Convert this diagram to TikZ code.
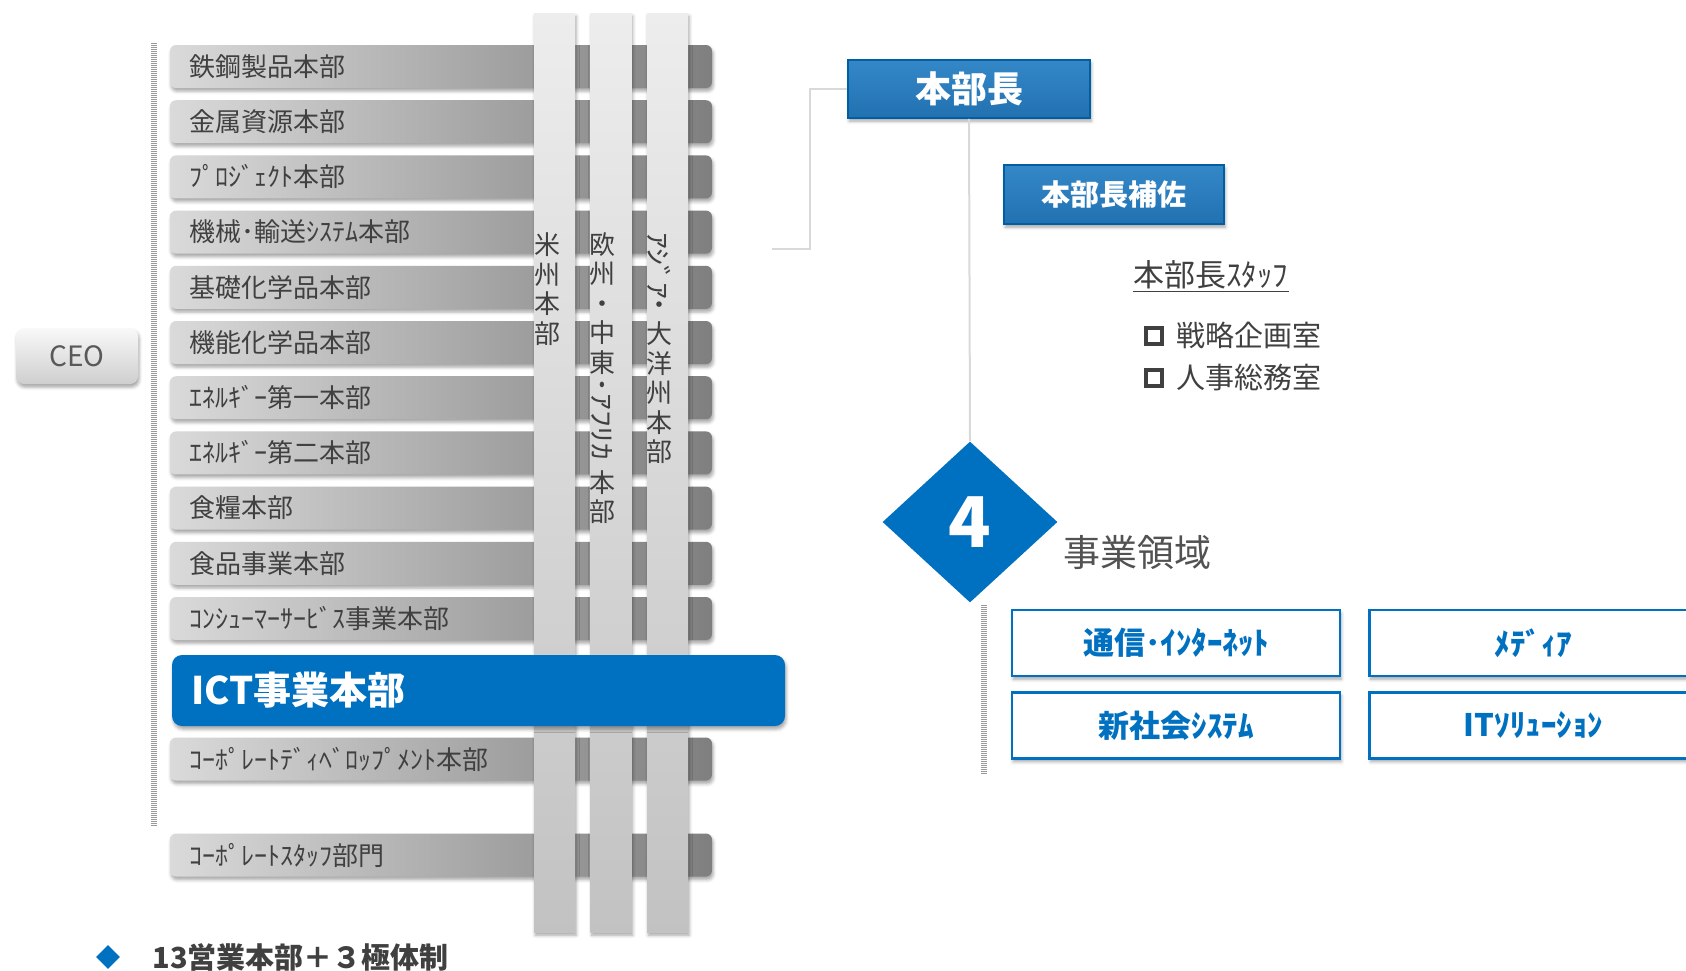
\documentclass[tikz,border=0pt]{standalone}
\usepackage{fontspec}
\usepackage{graphicx}
\setmainfont{Noto Sans CJK JP}
\usetikzlibrary{shapes.geometric,shadows.blur,calc}
\definecolor{txt}{HTML}{404040}
\definecolor{blu}{HTML}{0070C0}
\definecolor{barL}{HTML}{DADADA}
\definecolor{barR}{HTML}{7F7F7F}
\definecolor{stripT}{HTML}{EDEDED}
\definecolor{stripB}{HTML}{C2C2C2}
\definecolor{lineg}{HTML}{D9D9D9}
\definecolor{boxT}{HTML}{3488C8}
\definecolor{boxB}{HTML}{2271B1}
\newcommand{\sidek}[1]{\rotatebox[origin=c]{-90}{\scalebox{1.3}[1]{#1}}}
\tikzset{
  shad/.style={blur shadow={shadow xshift=0.6pt, shadow yshift=-1.6pt, shadow blur radius=1.6pt, shadow opacity=35}},
  graybar/.style={shad, rounded corners=3pt, left color=barL, right color=barR, draw=none,
    minimum height=21.5pt, text width=252pt, inner xsep=9.5pt, align=left,
    font=\fontsize{13pt}{15pt}\selectfont, text=txt},
  strip/.style={shad, top color=stripT, bottom color=stripB, draw=none, minimum width=20.5pt, minimum height=459.5pt, inner sep=0},
  vtext/.style={align=center, font=\fontsize{13pt}{14.75pt}\selectfont, text=txt, inner sep=0},
  bluebox/.style={shad, top color=boxT, bottom color=boxB, draw=blu!85!black, line width=0.8pt, text=white, font=\bfseries},
  areabox/.style={shad, draw=blu, line width=1.2pt, fill=white, minimum width=164pt, minimum height=33pt,
    text=blu, font=\bfseries\fontsize{15.5pt}{17pt}\selectfont},
  conn/.style={draw=lineg, line width=1pt},
  dotline/.style={draw=gray!80, line width=2.6pt, dash pattern=on 0.5pt off 0.5pt},
  sq/.style={draw=txt, line width=2pt, minimum size=7.8pt, inner sep=0}
}
\begin{document}
\begin{tikzpicture}[x=0.5pt,y=-0.5pt]
\useasboundingbox (0,0) rectangle (1686,970);

% dotted vertical line
\coordinate (dt) at (154,43);
\coordinate (db) at (154,826);
\draw[dotline] (dt) -- (db);

% CEO
\node[shad, rounded corners=4pt, top color=white!95!gray, bottom color=black!19, minimum width=61pt, minimum height=28pt,
  text=black!65, font=\fontsize{14pt}{16pt}\selectfont] (ceo) at (77,356) {CEO};

% gray bars
\node[graybar] (b1) at (441,66.5) {鉄鋼製品本部};
\node[graybar] (b2) at (441,121.7) {金属資源本部};
\node[graybar] (b3) at (441,176.9) {ﾌﾟﾛｼﾞｪｸﾄ本部};
\node[graybar] (b4) at (441,232.1) {機械･輸送ｼｽﾃﾑ本部};
\node[graybar] (b5) at (441,287.3) {基礎化学品本部};
\node[graybar] (b6) at (441,342.5) {機能化学品本部};
\node[graybar] (b7) at (441,397.7) {ｴﾈﾙｷﾞｰ第一本部};
\node[graybar] (b8) at (441,452.9) {ｴﾈﾙｷﾞｰ第二本部};
\node[graybar] (b9) at (441,508.1) {食糧本部};
\node[graybar] (b10) at (441,563.3) {食品事業本部};
\node[graybar] (b11) at (441,618.5) {ｺﾝｼｭｰﾏｰｻｰﾋﾞｽ事業本部};
\node[graybar] (b13) at (441,759) {ｺｰﾎﾟﾚｰﾄﾃﾞｨﾍﾞﾛｯﾌﾟﾒﾝﾄ本部};
\node[graybar] (b14) at (441,855) {ｺｰﾎﾟﾚｰﾄｽﾀｯﾌ部門};

% regional strips
\node[strip] (s1) at (554.5,472.5) {};
\node[strip] (s2) at (611,472.5) {};
\node[strip] (s3) at (667.5,472.5) {};

% ICT bar
\node[shad, rounded corners=5pt, fill=blu, minimum width=306.5pt, minimum height=35.5pt,
  text width=287.5pt, inner xsep=9.5pt, align=left, text=white,
  font=\bfseries\fontsize{19pt}{21pt}\selectfont] (ict) at (478.5,690.5) {ICT事業本部};

% vertical texts
\node[vtext] (v1) at (547,289) {米\\州\\本\\部};
\node[vtext] (v2) at (602,378) {欧\\州\\・\\中\\東\\\sidek{･ｱﾌﾘｶ\ }\\本\\部};
\node[vtext] (v3) at (659,348) {\sidek{ｱｼﾞｱ}\\・\\大\\洋\\州\\本\\部};

% right side
\node[bluebox, minimum width=121pt, minimum height=29pt, font=\bfseries\fontsize{18pt}{20pt}\selectfont] (hb) at (969,89) {本部長};
\node[bluebox, minimum width=110pt, minimum height=29.5pt, font=\bfseries\fontsize{14.5pt}{16pt}\selectfont] (hbh) at (1114,194.5) {本部長補佐};

\coordinate (brk) at (772,249);
\draw[conn] (brk) -- (810,249) |- (hb.west);

\node[diamond, fill=blu, aspect=1.087, minimum width=87.5pt, minimum height=80.5pt, inner sep=0,
  text=white, font=\bfseries\fontsize{35pt}{35pt}\selectfont] (dia) at (970,522) {4};
\draw[conn] (hb.south) -- (dia.north);

\node[anchor=west, inner sep=0, text=txt, font=\fontsize{15.5pt}{17pt}\selectfont] (staff) at (1133,275) {本部長ｽﾀｯﾌ};
\draw[txt, line width=0.7pt] ([yshift=-1pt]staff.south west) -- ([yshift=-1pt]staff.south east);

\node[sq] (q1) at (1154,336) {};
\node[anchor=west, inner sep=0, text=txt, font=\fontsize{14.5pt}{16pt}\selectfont] (t1) at (1176,335) {戦略企画室};
\node[sq] (q2) at (1154,378) {};
\node[anchor=west, inner sep=0, text=txt, font=\fontsize{14.5pt}{16pt}\selectfont] (t2) at (1176,378) {人事総務室};

\node[anchor=west, inner sep=0, text=black!68, font=\fontsize{18.5pt}{20pt}\selectfont] (area) at (1063,552) {事業領域};

\coordinate (dt2) at (984,605);
\coordinate (db2) at (984,774);
\draw[dotline] (dt2) -- (db2);

\node[areabox] (a1) at (1176,643) {通信･ｲﾝﾀｰﾈｯﾄ};
\node[areabox] (a2) at (1533.5,643) {ﾒﾃﾞｨｱ};
\node[areabox] (a3) at (1176,725.5) {新社会ｼｽﾃﾑ};
\node[areabox] (a4) at (1533.5,725.5) {ITｿﾘｭｰｼｮﾝ};

% bottom
\node[diamond, fill=blu, minimum width=12pt, minimum height=12pt, inner sep=0] (bul) at (108,957) {};
\node[anchor=west, inner sep=0, text=txt, font=\bfseries\fontsize{14.5pt}{16pt}\selectfont] (sum) at (152,957) {13営業本部＋３極体制};
\end{tikzpicture}
\end{document}
